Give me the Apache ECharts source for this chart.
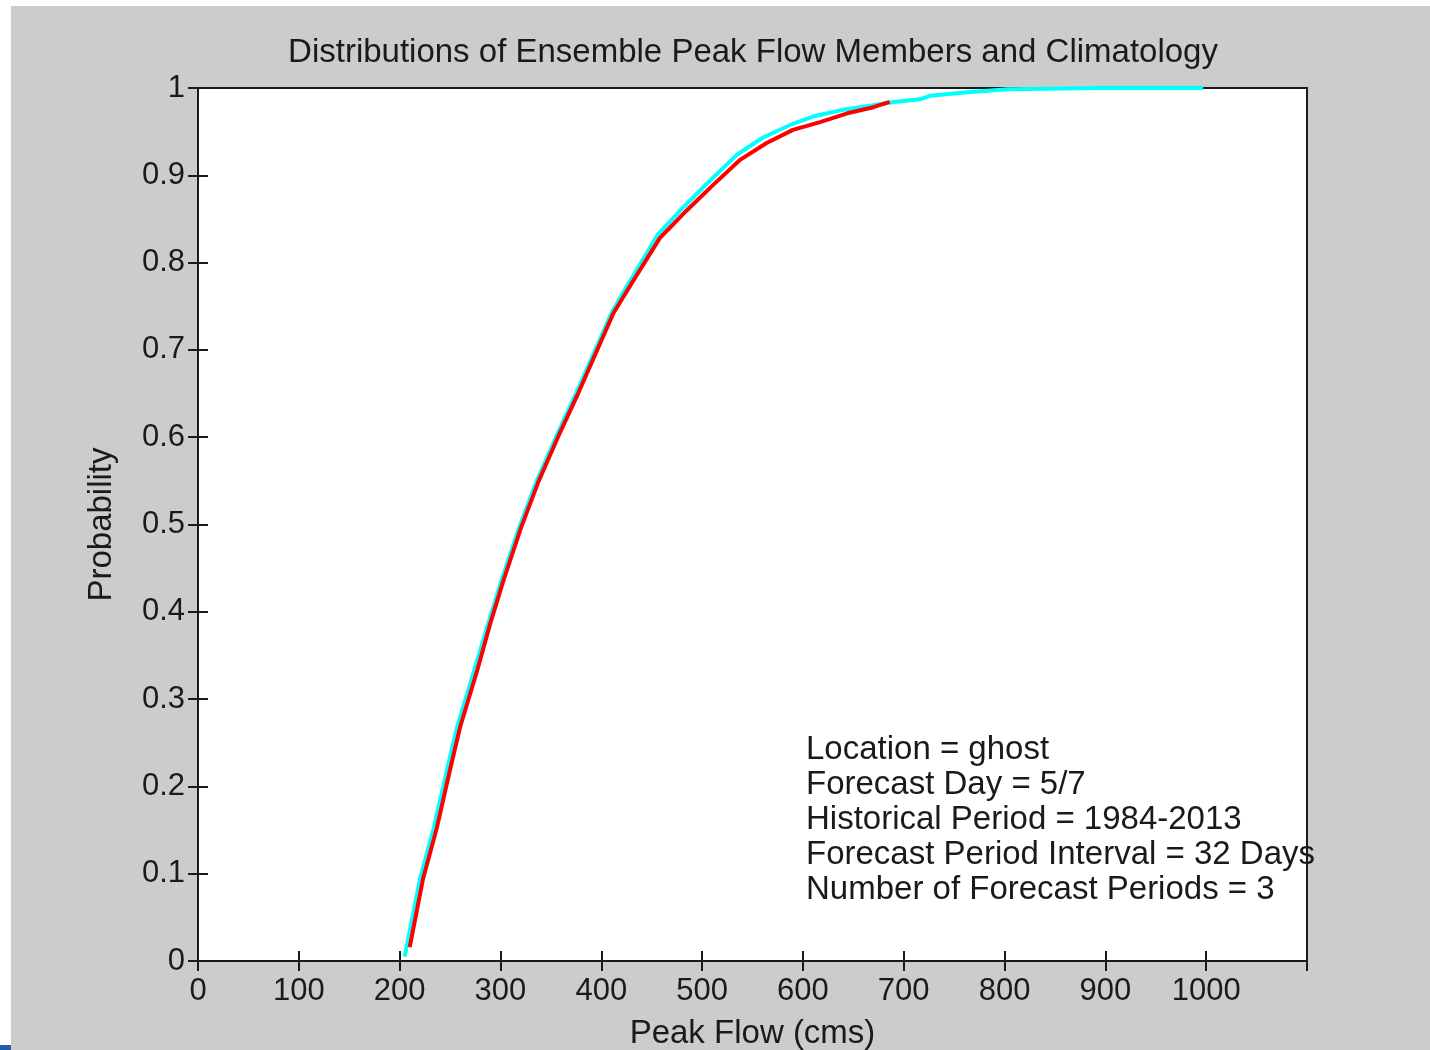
<!DOCTYPE html>
<html>
<head>
<meta charset="utf-8">
<title>Distributions of Ensemble Peak Flow Members and Climatology</title>
<script src="https://cdn.jsdelivr.net/npm/echarts@6/dist/echarts.min.js"></script>
<style>
  html, body { margin: 0; padding: 0; background: #fff; overflow: hidden; }
  #chart { position: absolute; left: 11px; top: 6px; width: 1419px; height: 1044px; }
  #mark { position: absolute; left: 0; top: 1045px; width: 11px; height: 5px; background: #1f5fa8; }
</style>
</head>
<body>
<div id="chart"></div>
<div id="mark"></div>
<script>
// climatology (cyan) - peak flow (cms) vs cumulative probability
const climFlow = [205, 220, 234, 247, 257, 274, 288, 301, 318, 336, 355, 375, 394, 410, 427, 456, 482, 508, 535, 560, 590, 612, 640, 668, 690, 716, 726, 763, 803, 895, 997]
const climProb = [0.005, 0.093, 0.153, 0.219, 0.268, 0.333, 0.387, 0.436, 0.495, 0.55, 0.6, 0.65, 0.7, 0.742, 0.776, 0.832, 0.864, 0.894, 0.924, 0.943, 0.959, 0.968, 0.975, 0.98, 0.984, 0.987, 0.991, 0.995, 0.9985, 1, 1]

// ensemble members (red)
const ensFlow = [210, 223, 237, 250, 260, 277, 290, 303, 320, 338, 357, 377, 396, 412, 429, 458, 485, 511, 538, 564, 590, 617, 644, 670, 686]
const ensProb = [0.016, 0.093, 0.153, 0.219, 0.268, 0.333, 0.387, 0.436, 0.495, 0.55, 0.6, 0.65, 0.7, 0.742, 0.774, 0.828, 0.86, 0.889, 0.918, 0.937, 0.952, 0.961, 0.971, 0.978, 0.984]

const infoLines = [
  'Location = ghost',
  'Forecast Day = 5/7',
  'Historical Period = 1984-2013',
  'Forecast Period Interval = 32 Days',
  'Number of Forecast Periods = 3'
]

const FONT = 'Liberation Sans'
const INK = '#1a1a1a'

function pairs(xs, ys) {
  let out = []
  for (let i = 0; i < xs.length; i++) {
    out.push([xs[i], ys[i]])
  }
  return out
}

const tickStyle = { show: true, inside: true, length: 10, lineStyle: { color: INK, width: 2 } }
const lineStyle = { show: true, lineStyle: { color: INK, width: 2 } }

const chart = echarts.init(document.getElementById('chart'), null, { renderer: 'canvas' })

chart.setOption({
  backgroundColor: '#cccccc',
  animation: false,
  title: {
    text: 'Distributions of Ensemble Peak Flow Members and Climatology',
    left: 737,
    top: 25,
    textAlign: 'center',
    textStyle: { fontFamily: FONT, fontSize: 33, fontWeight: 'normal', color: INK }
  },
  grid: {
    left: 187,
    top: 82,
    right: 123,
    bottom: 89,
    outerBoundsMode: 'none',
    containLabel: false,
    show: true,
    backgroundColor: '#ffffff',
    borderColor: INK,
    borderWidth: 2
  },
  xAxis: [{
    type: 'value',
    min: 0,
    max: 1100,
    interval: 100,
    name: 'Peak Flow (cms)',
    nameLocation: 'middle',
    nameGap: 56,
    nameTextStyle: { fontFamily: FONT, fontSize: 33, color: INK },
    axisLine: lineStyle,
    axisTick: tickStyle,
    splitLine: { show: false },
    axisLabel: {
      fontFamily: FONT,
      fontSize: 31,
      color: INK,
      margin: 15,
      formatter: v => (v > 1000 ? '' : String(v))
    }
  }, {
    type: 'value',
    position: 'top',
    min: 0,
    max: 1100,
    interval: 100,
    axisLine: lineStyle,
    axisTick: tickStyle,
    axisLabel: { show: false },
    splitLine: { show: false }
  }],
  yAxis: [{
    type: 'value',
    min: 0,
    max: 1,
    interval: 0.1,
    name: 'Probability',
    nameLocation: 'middle',
    nameGap: 80,
    nameTextStyle: { fontFamily: FONT, fontSize: 33, color: INK },
    axisLine: lineStyle,
    axisTick: tickStyle,
    splitLine: { show: false },
    axisLabel: {
      fontFamily: FONT,
      fontSize: 31,
      color: INK,
      margin: 13,
      formatter: v => String(+v.toFixed(1))
    }
  }, {
    type: 'value',
    position: 'right',
    min: 0,
    max: 1,
    interval: 0.1,
    axisLine: lineStyle,
    axisTick: tickStyle,
    axisLabel: { show: false },
    splitLine: { show: false }
  }],
  graphic: [{
    type: 'text',
    left: 795,
    top: 726,
    z: 100,
    style: {
      text: infoLines.join('\n'),
      font: '33px "' + FONT + '"',
      lineHeight: 35,
      fill: INK
    }
  }],
  series: [{
    name: 'Climatology',
    type: 'line',
    data: pairs(climFlow, climProb),
    showSymbol: false,
    lineStyle: { color: '#00ffff', width: 4 },
    z: 2
  }, {
    name: 'Ensemble Members',
    type: 'line',
    data: pairs(ensFlow, ensProb),
    showSymbol: false,
    lineStyle: { color: '#ff0000', width: 4 },
    z: 3
  }]
})
</script>
</body>
</html>
